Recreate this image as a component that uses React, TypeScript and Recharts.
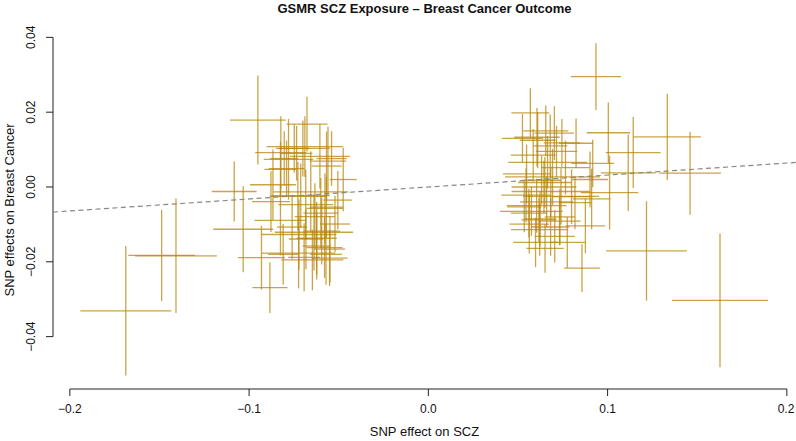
import React from "react";
import {
  ComposedChart,
  Scatter,
  ErrorBar,
  XAxis,
  YAxis,
  ReferenceLine,
} from "recharts";

// SNP effects on exposure (SCZ) and their standard errors
const snpBzx = [
  -0.1688, -0.1408, -0.1488, -0.1083, -0.1033, -0.0931, -0.0884, -0.0951,
  -0.0689, -0.07, -0.0823, -0.0605, -0.078, -0.056, -0.0568, -0.0825, -0.0867,
  -0.0656, -0.0728, -0.0878, -0.0569, -0.0712, -0.0684, -0.0577, -0.06,
  -0.0633, -0.0825, -0.0595, -0.0638, -0.0722, -0.0623, -0.0683, -0.0579,
  -0.0724, -0.0551, -0.0647, -0.0677, -0.0748, -0.0804, -0.054, -0.0735,
  -0.0791, -0.0521, -0.0693, -0.0571, -0.081, -0.076, -0.0549, -0.0623,
  -0.0475, -0.0505,
  0.1627, 0.1217, 0.146, 0.1333, 0.1143, 0.1004, 0.1115, 0.1011, 0.0935,
  0.0569, 0.0824, 0.0857, 0.0876, 0.0651, 0.0655, 0.0606, 0.0703, 0.068,
  0.061, 0.0917, 0.0902, 0.0621, 0.0732, 0.0561, 0.0617, 0.0604, 0.066, 0.074,
  0.0683, 0.0645, 0.065, 0.0693, 0.0665, 0.0563, 0.0682, 0.0623, 0.0734,
  0.0799, 0.0818, 0.0535, 0.0911, 0.0525, 0.0585, 0.0715, 0.0765, 0.0548,
  0.0632, 0.0775, 0.0705, 0.0598, 0.0545, 0.0745, 0.0575,
];
const snpBzxSe = [
  0.0254, 0.0228, 0.0186, 0.0125, 0.0167, 0.0131, 0.0098, 0.0156,
  0.0214, 0.0151, 0.0143, 0.0167, 0.0138, 0.0102, 0.0084, 0.0089, 0.0128,
  0.0209, 0.0158, 0.0106, 0.0093, 0.0162, 0.0153, 0.0102, 0.0098,
  0.0112, 0.0145, 0.0102, 0.0218, 0.0209, 0.0112, 0.0095, 0.01,
  0.0206, 0.01, 0.0173, 0.0114, 0.0084, 0.0078, 0.0084, 0.0089,
  0.01, 0.0084, 0.0089, 0.0089, 0.0084, 0.0084, 0.0084, 0.0078,
  0.0075, 0.008,
  0.0268, 0.0225, 0.0172, 0.0188, 0.0153, 0.0121, 0.0153, 0.016, 0.014,
  0.0106, 0.0095, 0.01, 0.011, 0.0104, 0.0126, 0.0127, 0.011, 0.0095,
  0.01, 0.012, 0.01, 0.016, 0.0118, 0.0101, 0.0098, 0.0167, 0.0149, 0.0212,
  0.0219, 0.0181, 0.015, 0.0265, 0.0219, 0.011, 0.0105, 0.009, 0.0085,
  0.0105, 0.009, 0.0095, 0.0105, 0.0115, 0.0125, 0.0115, 0.0135, 0.0132,
  0.0108, 0.0098, 0.0112, 0.0125, 0.0138, 0.0102, 0.0175,
];

// SNP effects on outcome (breast cancer) and their standard errors
const snpBzy = [
  -0.0331, -0.0184, -0.0183, -0.0012, -0.0113, -0.0189, -0.0269, 0.0179,
  0.0108, 0.0103, 0.0092, 0.0082, 0.0074, 0.0069, 0.0056, 0.0047, 0.0006,
  -0.0013, -0.0025, -0.0039, -0.0054, -0.0023, -0.0047, -0.0057, -0.007,
  -0.0079, -0.0089, -0.0118, -0.0121, -0.0127, -0.0137, -0.0139, -0.0162,
  -0.0177, -0.019, -0.0195, 0.0168, 0.0103, 0.0076, 0.0076, 0.009,
  0.0049, -0.0099, -0.0188, -0.018, -0.018, -0.0107, -0.0166, -0.0158,
  0.002, -0.0035,
  -0.0303, -0.0171, 0.0037, 0.0134, 0.0092, 0.0145, 0.0038, -0.0015, 0.0295,
  0.0198, 0.0117, -0.0217, -0.0104, -0.0164, 0.015, 0.0133, 0.0144, 0.011,
  0.0125, 0.0063, 0.002, -0.0114, -0.0091, -0.007, -0.0088, -0.005, -0.004,
  -0.0025, -0.0012, 0.0, 0.0012, 0.0027, 0.0066, -0.0099, -0.0107, -0.0085,
  -0.008, -0.0026, -0.0042, -0.0053, -0.0032, 0.013, 0.0085, 0.0095, 0.0052,
  0.0035, 0.0018, -0.0148, -0.0132, -0.0148, -0.0022, 0.0118, -0.0065,
];
const snpBzySe = [
  0.0173, 0.0153, 0.0122, 0.008, 0.0115, 0.0085, 0.0068, 0.0119,
  0.0081, 0.0075, 0.0097, 0.0086, 0.0108, 0.0092, 0.0092, 0.0073, 0.0094,
  0.0108, 0.0092, 0.0081, 0.0081, 0.0086, 0.0094, 0.0094, 0.0094,
  0.0089, 0.0094, 0.0089, 0.0102, 0.0094, 0.0097, 0.0081, 0.0081,
  0.0094, 0.0075, 0.0081, 0.0073, 0.0065, 0.0073, 0.0073, 0.0073,
  0.0075, 0.0075, 0.0091, 0.0081, 0.0081, 0.0086, 0.0089, 0.0089,
  0.0085, 0.0078,
  0.0179, 0.0133, 0.0111, 0.0115, 0.0095, 0.0081, 0.0102, 0.0099, 0.0089,
  0.0066, 0.0066, 0.0064, 0.0073, 0.0065, 0.0068, 0.0078, 0.0072, 0.0084,
  0.0075, 0.0063, 0.0075, 0.007, 0.0065, 0.0065, 0.006, 0.0072, 0.0068,
  0.0075, 0.0066, 0.007, 0.0068, 0.0075, 0.007, 0.0079, 0.0077, 0.0074,
  0.0075, 0.0073, 0.0071, 0.0068, 0.0081, 0.0065, 0.007, 0.0068, 0.0072,
  0.0078, 0.0065, 0.0068, 0.007, 0.0066, 0.0072, 0.0064, 0.0066,
];

const xTicks = [-0.2, -0.1, 0, 0.1, 0.2];
const yTicks = [-0.04, -0.02, 0, 0.02, 0.04];
const GSMR_SLOPE = 0.032;

const X_DOMAIN: [number, number] = [-0.2094, 0.2051];
const Y_DOMAIN: [number, number] = [-0.054, 0.0417];

const CROSS = "#b8860b";
const FONT = '"Liberation Sans", Arial, Helvetica, sans-serif';

const data = snpBzx.map((x, i) => ({
  x,
  y: snpBzy[i],
  ex: snpBzxSe[i],
  ey: snpBzySe[i],
}));

const fmt = (v: number, digits: number) =>
  (v < 0 ? "\u2212" : "") + Math.abs(v).toFixed(digits);

function XTick({ x, y, payload }: any) {
  return (
    <text x={x} y={y} dy={15} textAnchor="middle" fontSize={12} fill="#111" fontFamily={FONT}>
      {fmt(payload.value, 1)}
    </text>
  );
}

function YTick({ y, payload }: any) {
  return (
    <text
      transform={`translate(35, ${y}) rotate(-90)`}
      textAnchor="middle"
      fontSize={12}
      fill="#111"
      fontFamily={FONT}
    >
      {fmt(payload.value, 2)}
    </text>
  );
}

export default function App() {
  return (
    <div
      style={{
        position: "absolute",
        left: 0,
        top: 0,
        width: 796,
        height: 441,
        background: "#fff",
        fontFamily: FONT,
        color: "#111",
        overflow: "hidden",
      }}
    >
      <div
        style={{
          position: "absolute",
          left: 53,
          width: 743,
          top: 2,
          lineHeight: "14px",
          fontSize: 13,
          fontWeight: "bold",
          textAlign: "center",
        }}
      >
        GSMR SCZ Exposure – Breast Cancer Outcome
      </div>
      <ComposedChart
        width={796}
        height={441}
        data={data}
        margin={{ top: 31, right: 0, bottom: 0, left: 0 }}
      >
        <XAxis
          type="number"
          dataKey="x"
          domain={X_DOMAIN}
          allowDataOverflow
          ticks={xTicks}
          axisLine={false}
          tickLine={{ stroke: "#222" }}
          tickSize={7}
          tickMargin={2}
          height={52}
          tick={<XTick />}
        />
        <YAxis
          type="number"
          dataKey="y"
          domain={Y_DOMAIN}
          allowDataOverflow
          ticks={yTicks}
          axisLine={false}
          tickLine={{ stroke: "#222" }}
          tickSize={7}
          width={53}
          tick={<YTick />}
        />
        <ReferenceLine
          segment={[
            { x: xTicks[0], y: Y_DOMAIN[0] },
            { x: xTicks[xTicks.length - 1], y: Y_DOMAIN[0] },
          ]}
          stroke="#222"
          strokeWidth={1}
          ifOverflow="visible"
        />
        <ReferenceLine
          segment={[
            { x: X_DOMAIN[0], y: yTicks[0] },
            { x: X_DOMAIN[0], y: yTicks[yTicks.length - 1] },
          ]}
          stroke="#222"
          strokeWidth={1}
          ifOverflow="visible"
        />
        <Scatter
          dataKey="y"
          isAnimationActive={false}
          shape={() => <g />}
        >
          <ErrorBar
            dataKey="ex"
            direction="x"
            width={0}
            stroke={CROSS}
            strokeOpacity={0.75}
            strokeWidth={1.3}
            isAnimationActive={false}
          />
          <ErrorBar
            dataKey="ey"
            direction="y"
            width={0}
            stroke={CROSS}
            strokeOpacity={0.75}
            strokeWidth={1.3}
            isAnimationActive={false}
          />
        </Scatter>
        <ReferenceLine
          segment={[
            { x: X_DOMAIN[0], y: GSMR_SLOPE * X_DOMAIN[0] },
            { x: X_DOMAIN[1], y: GSMR_SLOPE * X_DOMAIN[1] },
          ]}
          stroke="#888"
          strokeWidth={1.2}
          strokeDasharray="5 3.5"
        />
      </ComposedChart>
      <div
        style={{
          position: "absolute",
          left: 53,
          width: 743,
          top: 425,
          lineHeight: "14px",
          fontSize: 13,
          textAlign: "center",
        }}
      >
        SNP effect on SCZ
      </div>
      <div
        style={{
          position: "absolute",
          left: 10 - 179,
          top: 210 - 7,
          width: 358,
          height: 14,
          lineHeight: "14px",
          fontSize: 13,
          textAlign: "center",
          transform: "rotate(-90deg)",
        }}
      >
        SNP effects on Breast Cancer
      </div>
    </div>
  );
}
